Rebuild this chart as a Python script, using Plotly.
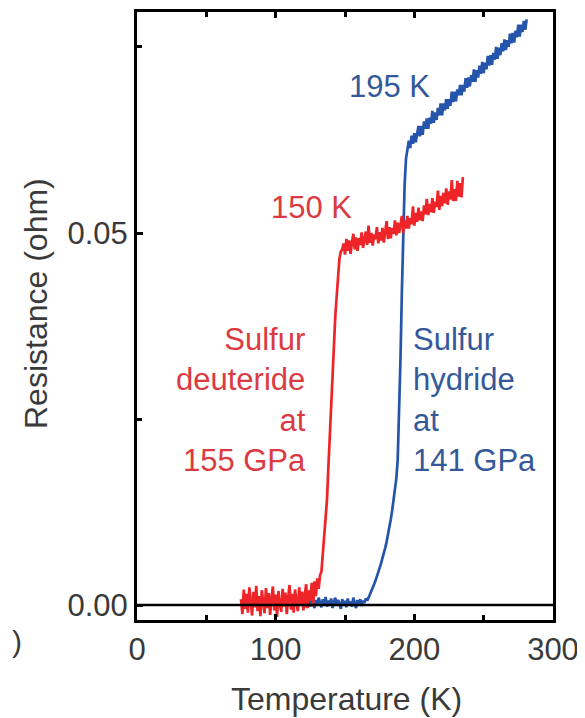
import plotly.graph_objects as go

# ---------------- data ----------------
# Sulfur deuteride at 155 GPa (red)
red_T = [75, 76, 77, 78, 79, 80, 81, 82, 83, 84, 85, 86, 87, 88, 89, 90, 91, 92, 93, 94,
         95, 96, 97, 98, 99, 100, 101, 102, 103, 104, 105, 106, 107, 108, 109, 110, 111, 112, 113, 114,
         115, 116, 117, 118, 119, 120, 121, 122, 123, 124, 125, 126, 127, 128, 129, 130,
         131, 132, 133, 134, 135, 136, 137, 138, 139, 140, 141, 142, 143, 144, 145, 146, 147, 148,
         149, 150, 151, 152, 153, 154, 155, 156, 157, 158, 159, 160, 161, 162, 163, 164, 165, 166, 167, 168,
         169, 170, 171, 172, 173, 174, 175, 176, 177, 178, 179, 180, 181, 182, 183, 184, 185, 186, 187, 188,
         189, 190, 191, 192, 193, 194, 195, 196, 197, 198, 199, 200, 201, 202, 203, 204, 205, 206, 207, 208,
         209, 210, 211, 212, 213, 214, 215, 216, 217, 218, 219, 220, 221, 222, 223, 224, 225, 226, 227, 228,
         229, 230, 231, 232, 233, 234, 235]
red_R = [0.0008, -0.0012, 0.0021, -0.0005, 0.0015, -0.0010, 0.0024, 0.0002, -0.0014, 0.0018,
         -0.0003, 0.0026, -0.0008, 0.0012, -0.0015, 0.0020, 0.0000, -0.0011, 0.0023, -0.0004,
         0.0016, -0.0013, 0.0009, 0.0025, -0.0007, 0.0014, -0.0016, 0.0019, 0.0001, -0.0009,
         0.0022, -0.0002, 0.0017, -0.0012, 0.0010, 0.0027, -0.0006, 0.0015, -0.0010, 0.0021,
         0.0003, -0.0008, 0.0024, 0.0000, 0.0018, -0.0007, 0.0013, 0.0028, -0.0004, 0.0020,
         0.0006, 0.0030, -0.0002, 0.0032, 0.0012, 0.0036,
         0.0022, 0.0040, 0.0045, 0.0070, 0.0095, 0.0118, 0.0141, 0.0185, 0.0230, 0.0265,
         0.0300, 0.0350, 0.0388, 0.0415, 0.0448, 0.0466, 0.0475, 0.0478,
         0.0486, 0.0471, 0.0492, 0.0476, 0.0490, 0.0472, 0.0487, 0.0499, 0.0478, 0.0494,
         0.0476, 0.0493, 0.0484, 0.0501, 0.0480, 0.0494, 0.0502, 0.0484, 0.0510, 0.0487,
         0.0500, 0.0483, 0.0498, 0.0492, 0.0508, 0.0486, 0.0501, 0.0490, 0.0507, 0.0487,
         0.0503, 0.0516, 0.0492, 0.0508, 0.0493, 0.0507, 0.0499, 0.0517, 0.0497, 0.0514,
         0.0500, 0.0511, 0.0523, 0.0500, 0.0517, 0.0506, 0.0523, 0.0506, 0.0520, 0.0512,
         0.0536, 0.0510, 0.0527, 0.0515, 0.0534, 0.0517, 0.0529, 0.0516, 0.0537, 0.0525,
         0.0546, 0.0524, 0.0539, 0.0528, 0.0547, 0.0527, 0.0542, 0.0535, 0.0557, 0.0531,
         0.0550, 0.0536, 0.0554, 0.0540, 0.0560, 0.0538, 0.0556, 0.0545, 0.0571, 0.0543,
         0.0559, 0.0543, 0.0570, 0.0549, 0.0567, 0.0548, 0.0575]

# Sulfur hydride at 141 GPa (blue)
blue_T = [120, 121, 122, 123, 124, 125, 126, 127, 128, 129, 130, 131, 132, 133, 134, 135, 136, 137, 138, 139,
          140, 141, 142, 143, 144, 145, 146, 147, 148, 149, 150, 151, 152, 153, 154, 155, 156, 157, 158, 159,
          160, 161, 162, 163, 164, 165, 166,
          167, 168, 169, 170, 171, 172, 173, 174, 175, 176, 177, 178, 179, 180, 181, 182, 183, 184, 185, 186,
          187, 188, 189, 190, 191, 192, 193, 194, 195,
          196, 197, 198, 199, 200, 201, 202, 203, 204, 205, 206, 207, 208, 209, 210, 211, 212, 213, 214, 215,
          216, 217, 218, 219, 220, 221, 222, 223, 224, 225, 226, 227, 228, 229, 230, 231, 232, 233, 234, 235,
          236, 237, 238, 239, 240, 241, 242, 243, 244, 245, 246, 247, 248, 249, 250, 251, 252, 253, 254, 255,
          256, 257, 258, 259, 260, 261, 262, 263, 264, 265, 266, 267, 268, 269, 270, 271, 272, 273, 274, 275,
          276, 277, 278, 279, 280, 281]
blue_R = [0.0003, -0.0003, 0.0008, 0.0001, 0.0006, -0.0002, 0.0009, 0.0002, -0.0004, 0.0007,
          0.0000, 0.0010, 0.0003, -0.0003, 0.0008, 0.0001, 0.0011, -0.0002, 0.0006, 0.0000,
          0.0009, -0.0004, 0.0005, 0.0010, -0.0001, 0.0007, 0.0002, -0.0005, 0.0008, 0.0001,
          0.0006, -0.0003, 0.0009, 0.0000, 0.0005, -0.0002, 0.0010, 0.0002, -0.0004, 0.0007,
          0.0001, 0.0008, -0.0001, 0.0006, 0.0003, 0.0009, 0.0006,
          0.0010, 0.0014, 0.0018, 0.0023, 0.0028, 0.0033, 0.0038, 0.0044, 0.0050, 0.0056,
          0.0062, 0.0069, 0.0077, 0.0085, 0.0094, 0.0104, 0.0115, 0.0127, 0.0140, 0.0154,
          0.0170, 0.0195, 0.0250, 0.0330, 0.0420, 0.0505, 0.0565, 0.0600, 0.0615,
          0.0624, 0.0614, 0.0631, 0.0620, 0.0634, 0.0622, 0.0636, 0.0644, 0.0630, 0.0644,
          0.0632, 0.0650, 0.0640, 0.0654, 0.0640, 0.0655, 0.0647, 0.0664, 0.0648, 0.0662,
          0.0652, 0.0668, 0.0658, 0.0674, 0.0658, 0.0674, 0.0665, 0.0680, 0.0667, 0.0680,
          0.0671, 0.0690, 0.0676, 0.0690, 0.0677, 0.0693, 0.0685, 0.0699, 0.0685, 0.0699,
          0.0690, 0.0708, 0.0695, 0.0709, 0.0697, 0.0712, 0.0703, 0.0720, 0.0703, 0.0719,
          0.0709, 0.0725, 0.0714, 0.0730, 0.0715, 0.0729, 0.0720, 0.0738, 0.0725, 0.0739,
          0.0726, 0.0742, 0.0733, 0.0750, 0.0734, 0.0749, 0.0739, 0.0755, 0.0744, 0.0760,
          0.0746, 0.0759, 0.0750, 0.0768, 0.0755, 0.0769, 0.0756, 0.0772, 0.0763, 0.0780,
          0.0764, 0.0780, 0.0770, 0.0785, 0.0773, 0.0787]

x_ticks = [0, 100, 200, 300]
x_minor = [50, 150, 250]
y_ticks = [0.0, 0.05]
y_minor = [0.025, 0.075]
y_labels = ["0.00", "0.05"]

# ---------------- figure ----------------
# the page body has an 8 px default margin, so the figure is drawn 8 px smaller
OFF = 8
PAGE_W, PAGE_H = 585, 718
W, H = PAGE_W - OFF, PAGE_H - OFF
PLOT_L, PLOT_R, PLOT_T, PLOT_B = 137, 553, 12, 620      # plot box in page pixels
L, R, T, B = PLOT_L - OFF, PAGE_W - PLOT_R, PLOT_T - OFF, PAGE_H - PLOT_B
PW, PH = PLOT_R - PLOT_L, PLOT_B - PLOT_T


def px(x):
    return (x - PLOT_L) / PW


def py(y):
    return (PLOT_B - y) / PH


RED = "#ee2428"
BLUE = "#2455aa"
RED_TXT = "#dc3a42"
BLUE_TXT = "#34599a"
GREY = "#3a3a3a"
FONT = "Liberation Sans, Arial, sans-serif"

fig = go.Figure()
fig.add_trace(go.Scatter(x=blue_T, y=blue_R, mode="lines",
                         line=dict(color=BLUE, width=2.7), showlegend=False))
fig.add_trace(go.Scatter(x=red_T, y=red_R, mode="lines",
                         line=dict(color=RED, width=2.7), showlegend=False))

fig.add_shape(type="line", xref="paper", yref="y", x0=0, x1=1, y0=0, y1=0,
              line=dict(color="black", width=2.5), layer="above")


def note(text, x, y, color, size=31, xa="center", ya="middle", align="center", angle=0):
    return dict(text=text, x=px(x), y=py(y), xref="paper", yref="paper",
                xanchor=xa, yanchor=ya, align=align, textangle=angle,
                showarrow=False, font=dict(size=size, color=color, family=FONT))


ann = [
    note("195 K", 389, 87, BLUE_TXT),
    note("150 K", 311, 207, RED_TXT),
    note("Sulfur<br>deuteride<br>at<br>155 GPa", 308, 400, RED_TXT, xa="right", align="right"),
    note("Sulfur<br>hydride<br>at<br>141 GPa", 411, 400, BLUE_TXT, xa="left", align="left"),
    note(")", 10, 641, GREY, size=30, xa="left"),
    note("Resistance (ohm)", 36, 304, GREY, size=32, angle=-90),
    note("Temperature (K)", 346, 699, GREY, size=32),
]

fig.update_layout(
    width=W, height=H,
    margin=dict(l=L, r=R, t=T, b=B),
    paper_bgcolor="white", plot_bgcolor="white",
    font=dict(family=FONT, size=31, color=GREY),
    annotations=ann,
    xaxis=dict(range=[0, 300], tickvals=x_ticks, ticktext=[str(v) for v in x_ticks],
               showgrid=False, zeroline=False, automargin=False,
               showline=True, linecolor="black", linewidth=3, mirror="ticks",
               ticks="inside", ticklen=6, tickwidth=2.5, tickcolor="black",
               minor=dict(tickvals=x_minor, ticks="inside", ticklen=5, tickwidth=2.5,
                          tickcolor="black", showgrid=False),
               tickfont=dict(size=31, color=GREY, family=FONT)),
    yaxis=dict(range=[-0.0020, 0.0797], tickvals=y_ticks, ticktext=y_labels,
               showgrid=False, zeroline=False, automargin=False,
               showline=True, linecolor="black", linewidth=3, mirror=True,
               ticks="inside", ticklen=6, tickwidth=2.5, tickcolor="black",
               minor=dict(tickvals=y_minor, ticks="inside", ticklen=5, tickwidth=2.5,
                          tickcolor="black", showgrid=False),
               tickfont=dict(size=31, color=GREY, family=FONT)),
)

fig.write_html("out.html")
